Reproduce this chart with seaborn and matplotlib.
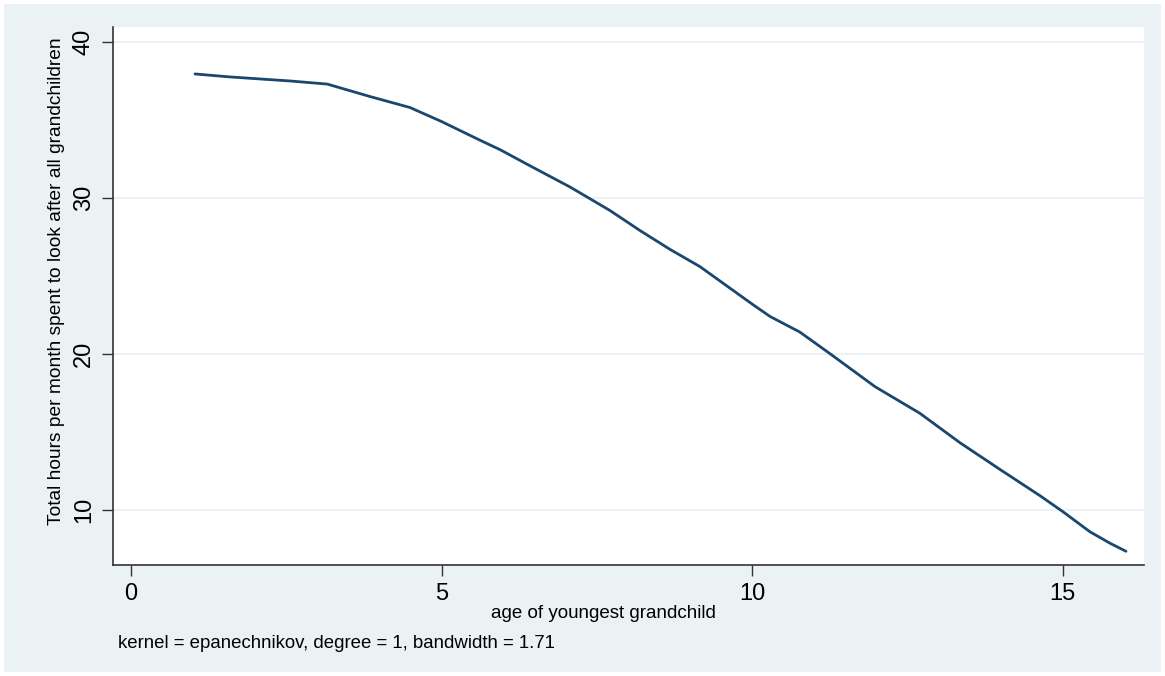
import matplotlib
matplotlib.use("Agg")
import matplotlib.pyplot as plt
from matplotlib.patches import Rectangle
import seaborn as sns
import pandas as pd

age = [1.03, 1.59, 2.56, 3.16, 3.85, 4.49, 5.0, 5.62, 5.94, 6.43, 7.07, 7.71, 8.2, 8.68,
       9.16, 10.0, 10.29, 10.77, 11.26, 11.98, 12.7, 13.35, 13.99, 14.64, 15.0, 15.44,
       15.77, 16.02]
hours = [37.95, 37.76, 37.5, 37.3, 36.5, 35.8, 34.9, 33.7, 33.1, 32.05, 30.7, 29.2, 27.9,
         26.7, 25.6, 23.2, 22.4, 21.4, 20.0, 17.9, 16.2, 14.3, 12.6, 10.9, 9.9, 8.6,
         7.85, 7.35]
xticks = [0, 5, 10, 15]
yticks = [10, 20, 30, 40]

sns.set_theme(style="white")
plt.rcParams['font.family'] = ['Liberation Sans', 'DejaVu Sans']

BG = "#EAF2F3"
LINE = "#1A476F"

fig = plt.figure(figsize=(11.65, 6.76), dpi=100, facecolor="white")
fig.patches.append(Rectangle((4 / 1165, 4 / 676), 1 - 8 / 1165, 1 - 8 / 676,
                             transform=fig.transFigure, facecolor=BG, edgecolor="none", zorder=-10))
ax = fig.add_axes([113 / 1165, 111 / 676, (1144 - 113) / 1165, (565 - 27) / 676])
ax.set_facecolor("white")

df = pd.DataFrame({"age": age, "hours": hours})
sns.lineplot(data=df, x="age", y="hours", ax=ax, color=LINE, linewidth=2.0)

ax.set_xlim(-0.29, 16.31)
ax.set_ylim(6.47, 40.96)
ax.set_xticks(xticks)
ax.set_yticks(yticks)
ax.grid(axis="y", color=BG, linewidth=1.5)
ax.grid(axis="x", visible=False)
ax.set_axisbelow(True)

for s in ["top", "right"]:
    ax.spines[s].set_visible(False)
for s in ["left", "bottom"]:
    ax.spines[s].set_color("#333333")
    ax.spines[s].set_linewidth(1.2)

ax.tick_params(axis="both", which="major", direction="out", length=8, width=1,
               color="#333333", labelsize=17, labelcolor="black", bottom=True, left=True)
ax.tick_params(axis="x", pad=5)
ax.tick_params(axis="y", pad=5)
for lab in ax.get_yticklabels():
    lab.set_rotation(90)
    lab.set_va("center")

ax.set_xlabel("age of youngest grandchild", fontsize=13.5, color="black", labelpad=0)
ax.set_ylabel("Total hours per month spent to look after all grandchildren", fontsize=13.8,
              color="black", labelpad=6)
ax.xaxis.label.set_x((603 - 113) / 1031)
ax.yaxis.label.set_y((565 - 281) / 538)

fig.text(118 / 1165, 1 - 643 / 676, "kernel = epanechnikov, degree = 1, bandwidth = 1.71",
         fontsize=13.4, ha="left", va="center", color="black")

fig.savefig("out.png", dpi=100, facecolor=fig.get_facecolor())
